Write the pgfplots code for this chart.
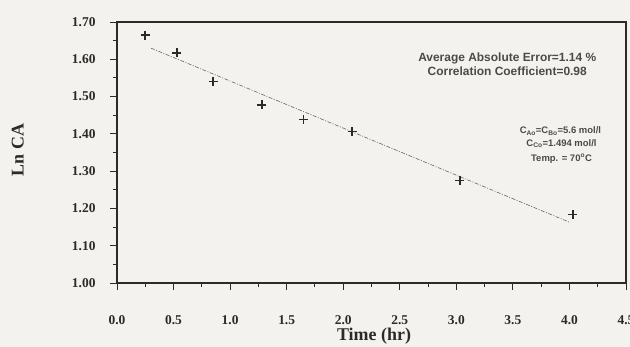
\documentclass[border=0pt]{standalone}
\usepackage{fontspec}
\setmainfont{Liberation Serif}
\newfontfamily\arialf{Liberation Sans}
\usepackage{pgfplots}
\pgfplotsset{compat=1.18}
\definecolor{paper}{HTML}{F4F2EE}
\definecolor{ink}{HTML}{2A2A2A}
\begin{document}
\begin{tikzpicture}
\fill[paper] (0,0) rectangle (630bp,347bp);
\useasboundingbox (0,0) rectangle (630bp,347bp);
\begin{axis}[
  at={(117bp,64bp)}, anchor=south west,
  scale only axis, width=509bp, height=261bp,
  xmin=0, xmax=4.5, ymin=1.0, ymax=1.7,
  xtick={0,0.5,...,4.5}, ytick={1.0,1.1,...,1.75},
  minor x tick num=1, minor y tick num=1,
  tick pos=lower, tick align=outside,
  major tick length=7bp, minor tick length=4bp,
  axis line style={ink, line width=1.1pt},
  every tick/.style={ink, line width=1pt},
  /pgf/number format/assume math mode=true,
  xticklabel style={/pgf/number format/fixed, /pgf/number format/fixed zerofill, /pgf/number format/precision=1, yshift=-22bp},
  yticklabel style={/pgf/number format/fixed, /pgf/number format/fixed zerofill, /pgf/number format/precision=2, xshift=-11bp},
  tick label style={font=\fontsize{13.5}{15}\selectfont\bfseries, text=ink},
  xlabel={Time (hr)}, ylabel={Ln CA},
  label style={font=\fontsize{18}{20}\selectfont\bfseries, text=ink},
  xlabel style={at={(axis description cs:0.505,-0.205)}, anchor=center},
  ylabel style={at={(axis description cs:-0.195,0.51)}, anchor=center},
  clip=false,
]
\addplot[only marks, mark=+, mark size=4.5bp, ink, line width=1.6pt] coordinates {
(0.25,1.665) (0.53,1.617) (0.85,1.540) (1.28,1.478) (1.65,1.438) (2.08,1.406) (3.03,1.275) (4.03,1.184)
};
\addplot[gray!80!black, line width=0.6pt, dash pattern=on 4pt off 1.5pt on 1pt off 1.5pt] coordinates {
(0.30,1.630) (4.00,1.163)
};
\node[font=\arialf\fontsize{12}{14}\selectfont\bfseries, text=ink!85, align=center] at (axis cs:3.45,1.588)
  {Average Absolute Error=1.14 \%\\Correlation Coefficient=0.98};
\node[font=\arialf\fontsize{9.5}{11}\selectfont\bfseries, text=ink!85] at (axis cs:3.92,1.408)
  {C\textsubscript{Ao}=C\textsubscript{Bo}=5.6 mol/l};
\node[font=\arialf\fontsize{9.5}{11}\selectfont\bfseries, text=ink!85] at (axis cs:3.93,1.374)
  {C\textsubscript{Co}=1.494 mol/l};
\node[font=\arialf\fontsize{9.5}{11}\selectfont\bfseries, text=ink!85] at (axis cs:3.93,1.333)
  {Temp. = 70\textsuperscript{o}C};
\end{axis}
\end{tikzpicture}
\end{document}
